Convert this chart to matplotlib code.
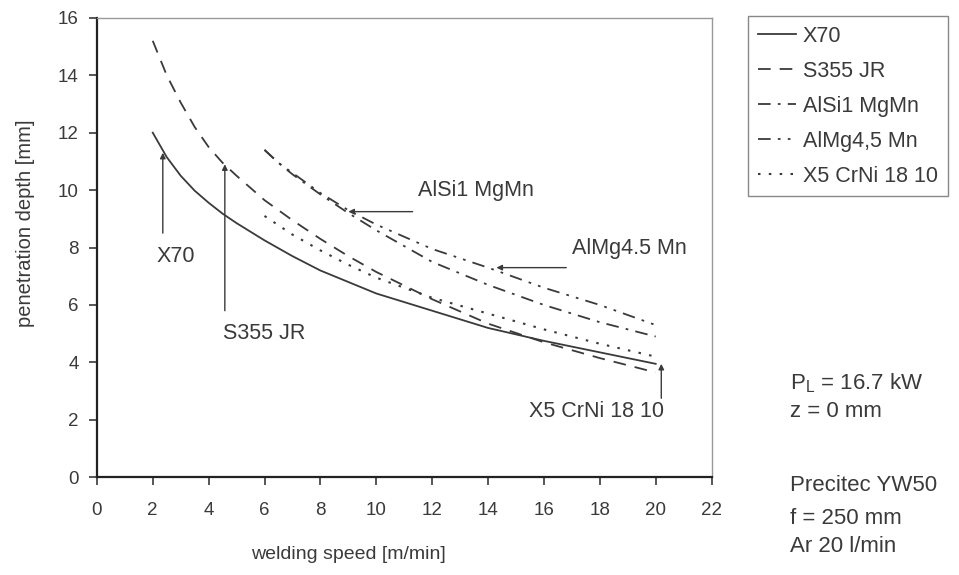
import matplotlib.pyplot as plt

plt.rcParams['font.family'] = ['Liberation Sans', 'DejaVu Sans']

# welding speed [m/min] and penetration depth [mm]
x_x70 = [2, 2.5, 3, 3.5, 4, 4.5, 5, 6, 7, 8, 9, 10, 12, 14, 16, 18, 20]
y_x70 = [12.0, 11.15, 10.5, 9.98, 9.56, 9.18, 8.85, 8.25, 7.7, 7.2, 6.8, 6.4, 5.8, 5.2, 4.75, 4.35, 3.95]

x_s355 = [2, 2.5, 3, 3.5, 4, 4.5, 5, 6, 7, 8, 9, 10, 12, 14, 16, 18, 20]
y_s355 = [15.2, 14.0, 13.05, 12.2, 11.5, 10.95, 10.5, 9.65, 8.95, 8.3, 7.7, 7.15, 6.2, 5.35, 4.7, 4.15, 3.65]

x_alsi = [6, 6.5, 7, 8, 9, 10, 12, 14, 16, 18, 20]
y_alsi = [11.4, 10.95, 10.55, 9.85, 9.2, 8.6, 7.5, 6.7, 6.0, 5.4, 4.9]

x_almg = [6, 6.5, 7, 8, 9, 10, 12, 14, 16, 18, 20]
y_almg = [11.4, 10.95, 10.6, 9.9, 9.3, 8.8, 7.95, 7.3, 6.6, 6.0, 5.3]

x_x5 = [6, 7, 8, 9, 10, 12, 14, 16, 18, 20]
y_x5 = [9.1, 8.45, 7.9, 7.4, 6.95, 6.25, 5.7, 5.15, 4.65, 4.2]

labels = ['X70', 'S355 JR', 'AlSi1 MgMn', 'AlMg4,5 Mn', 'X5 CrNi 18 10']
x_ticks = list(range(0, 23, 2))
y_ticks = list(range(0, 17, 2))

ink = '#3a3a3a'

fig = plt.figure(figsize=(9.59, 5.75), dpi=100)
ax = fig.add_axes([0.101, 0.17, 0.641, 0.799])

ax.plot(x_x70, y_x70, color=ink, lw=1.3, label=labels[0])
ax.plot(x_s355, y_s355, color=ink, lw=1.3, dashes=(7, 5), label=labels[1])
ax.plot(x_alsi, y_alsi, color=ink, lw=1.3, dashes=(7, 4, 1.5, 4), label=labels[2])
ax.plot(x_almg, y_almg, color=ink, lw=1.3, dashes=(7, 4, 1.5, 4, 1.5, 4), label=labels[3])
ax.plot(x_x5, y_x5, color=ink, lw=1.5, dashes=(1.2, 4), label=labels[4])

ax.set_xlim(0, 22)
ax.set_ylim(0, 16)
ax.set_xticks(x_ticks)
ax.set_yticks(y_ticks)
ax.tick_params(direction='out', length=6, width=1.2, colors=ink, labelsize=13.5)
ax.tick_params(axis='x', pad=12)
ax.tick_params(axis='y', pad=7)
for s in ['left', 'bottom']:
    ax.spines[s].set_color('#222222')
    ax.spines[s].set_linewidth(1.6)
for s in ['top', 'right']:
    ax.spines[s].set_color('#999999')
    ax.spines[s].set_linewidth(1.0)

ax.set_xlabel('welding speed [m/min]', fontsize=14, color=ink)
ax.set_ylabel('penetration depth [mm]', fontsize=14.5, color=ink)
ax.xaxis.set_label_coords(0.41, -0.15)
ax.yaxis.set_label_coords(-0.1, 0.553)

# annotations inside the plot
arrow = dict(arrowstyle='-|>', color=ink, lw=1.0, mutation_scale=8, shrinkA=0, shrinkB=0)
fs = 15.5
ax.annotate('', xy=(2.36, 11.3), xytext=(2.36, 8.5), arrowprops=arrow)
ax.text(2.15, 7.7, 'X70', fontsize=fs, color=ink, va='center')
ax.annotate('', xy=(4.58, 10.9), xytext=(4.58, 5.8), arrowprops=arrow)
ax.text(4.5, 5.0, 'S355 JR', fontsize=fs, color=ink, va='center')
ax.annotate('', xy=(9.0, 9.25), xytext=(11.3, 9.25), arrowprops=arrow)
ax.text(11.5, 10.0, 'AlSi1 MgMn', fontsize=fs, color=ink, va='center')
ax.annotate('', xy=(14.3, 7.3), xytext=(16.8, 7.3), arrowprops=arrow)
ax.text(17.0, 7.95, 'AlMg4.5 Mn', fontsize=fs, color=ink, va='center')
ax.annotate('', xy=(20.2, 3.95), xytext=(20.2, 2.75), arrowprops=arrow)
ax.text(20.3, 2.3, 'X5 CrNi 18 10', fontsize=fs, color=ink, va='center', ha='right')

leg = ax.legend(loc='upper left', bbox_to_anchor=(0.78, 0.972), bbox_transform=fig.transFigure,
                fontsize=15.5, handlelength=1.8, handletextpad=0.3, labelspacing=0.65,
                borderpad=0.45, fancybox=False, framealpha=1, borderaxespad=0)
leg.get_frame().set_edgecolor('#888888')
leg.get_frame().set_linewidth(1.0)
for t in leg.get_texts():
    t.set_color(ink)

# process parameters
pfs = 16
fig.text(0.824, 0.334, 'P$_\\mathregular{L}$ = 16.7 kW', fontsize=pfs, color=ink, va='center')
fig.text(0.824, 0.285, 'z = 0 mm', fontsize=pfs, color=ink, va='center')
fig.text(0.824, 0.155, 'Precitec YW50', fontsize=pfs, color=ink, va='center')
fig.text(0.824, 0.098, 'f = 250 mm', fontsize=pfs, color=ink, va='center')
fig.text(0.824, 0.049, 'Ar 20 l/min', fontsize=pfs, color=ink, va='center')

fig.savefig('out.png', dpi=100)
